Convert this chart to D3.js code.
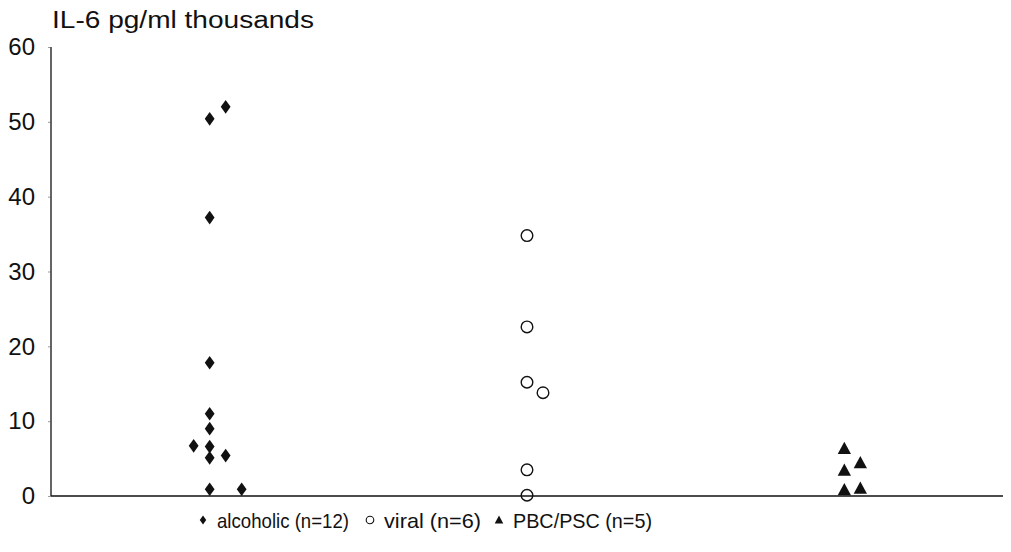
<!DOCTYPE html>
<html>
<head>
<meta charset="utf-8">
<script src="https://cdn.jsdelivr.net/npm/d3@7"></script>
<style>
  body { margin: 0; background: #fff; }
  svg text { font-family: 'Liberation Sans', Arial, sans-serif; fill: #111; }
</style>
</head>
<body>
<div class="graph"><svg></svg></div>
<script>
// groups shown on the x axis (no tick labels, only the legend names them)
const groups = ['alcoholic', 'viral', 'PBC/PSC']
const legendLabels = ['alcoholic (n=12)', 'viral (n=6)', 'PBC/PSC (n=5)']

// IL-6 values (pg/ml thousands)
const alcoholicValues = [52.0, 50.4, 37.2, 17.8, 11.0, 9.0, 6.7, 6.6, 5.4, 5.1, 0.9, 0.9]
const viralValues = [34.8, 22.6, 15.2, 13.8, 3.5, 0.1]
const pbcValues = [6.3, 4.4, 3.4, 1.0, 0.8]

// side-by-side slot of each point so overlapping values stay visible
const alcoholicSlots = [1, 0, 0, 0, 0, 0, -1, 0, 1, 0, 0, 2]
const viralSlots = [0, 0, 0, 1, 0, 0]
const pbcSlots = [0, 1, 0, 1, 0]

const yTicks = [0, 10, 20, 30, 40, 50, 60]

const width = 1011
const height = 552

const svg = d3.select('.graph').select('svg')
  .attr('width', width)
  .attr('height', height)

const g = svg.append('g')

const x = d3.scalePoint()
  .domain(groups)
  .range([51, 1003])
  .padding(0.5)

const slot = d3.scaleLinear().domain([0, 1]).range([0, 16])

const y = d3.scaleLinear()
  .domain([0, 60])
  .range([496, 47])

// y axis
const yAxis = d3.axisLeft(y)
  .tickValues(yTicks)
  .tickSize(3)
  .tickPadding(13)
g.append('g')
  .attr('transform', 'translate(51,0)')
  .call(yAxis)
  .call(s => s.select('.domain').attr('stroke', '#111').attr('stroke-width', 1.3).attr('d', `M0,${y(60)}V${y(0)}`))
  .call(s => s.selectAll('.tick line').attr('stroke', '#555').attr('stroke-width', 0.6))
  .call(s => s.selectAll('.tick text')
    .attr('font-size', 24)
    .attr('font-family', "'Liberation Sans', Arial, sans-serif")
    .attr('fill', '#111'))

// x baseline
g.append('line')
  .attr('x1', x.range()[0])
  .attr('x2', x.range()[1])
  .attr('y1', y(0))
  .attr('y2', y(0))
  .attr('stroke', '#111')
  .attr('stroke-width', 1.5)

g.append('text')
  .text('IL-6 pg/ml thousands')
  .attr('x', 52)
  .attr('y', 28)
  .attr('font-size', 23)
  .attr('textLength', 262)
  .attr('lengthAdjust', 'spacingAndGlyphs')

const diamond = (s) => `M0,${-s}L${s * 0.72},0L0,${s}L${-s * 0.72},0Z`
const triangle = (s) => `M0,${-s}L${s * 0.95},${s * 0.75}L${-s * 0.95},${s * 0.75}Z`

function drawGroup (name, values, slots, kind) {
  const pts = values.map((v, i) => ({ v, s: slots[i] }))
  const sel = g.append('g').selectAll('.marker')
    .data(pts)
    .enter()
  const px = (d) => x(name) + slot(d.s)
  if (kind === 'circle') {
    sel.append('circle')
      .attr('class', 'marker')
      .attr('cx', px)
      .attr('cy', (d) => y(d.v))
      .attr('r', 5.8)
      .attr('fill', 'none')
      .attr('stroke', '#111')
      .attr('stroke-width', 1.4)
  } else {
    sel.append('path')
      .attr('class', 'marker')
      .attr('d', kind === 'diamond' ? diamond(6.8) : triangle(7))
      .attr('transform', (d) => `translate(${px(d)},${y(d.v)})`)
      .attr('fill', '#111')
  }
}

drawGroup('alcoholic', alcoholicValues, alcoholicSlots, 'diamond')
drawGroup('viral', viralValues, viralSlots, 'circle')
drawGroup('PBC/PSC', pbcValues, pbcSlots, 'triangle')

// legend
const legend = g.append('g').attr('transform', 'translate(0,524)')
const legendX = [203, 370, 499]
const legendWidths = [132, 97, 139]
const kinds = ['diamond', 'circle', 'triangle']
legendLabels.forEach((label, i) => {
  const item = legend.append('g').attr('transform', `translate(${legendX[i]},0)`)
  if (kinds[i] === 'circle') {
    item.append('circle').attr('r', 3.8).attr('fill', 'none').attr('stroke', '#111').attr('stroke-width', 1.1).attr('cy', -4)
  } else {
    item.append('path')
      .attr('d', kinds[i] === 'diamond' ? diamond(4.5) : triangle(4.5))
      .attr('transform', 'translate(0,-4)')
      .attr('fill', '#111')
  }
  item.append('text')
    .text(label)
    .attr('x', 14)
    .attr('y', 4)
    .attr('font-size', 21)
    .attr('textLength', legendWidths[i])
    .attr('lengthAdjust', 'spacingAndGlyphs')
})
</script>
</body>
</html>
